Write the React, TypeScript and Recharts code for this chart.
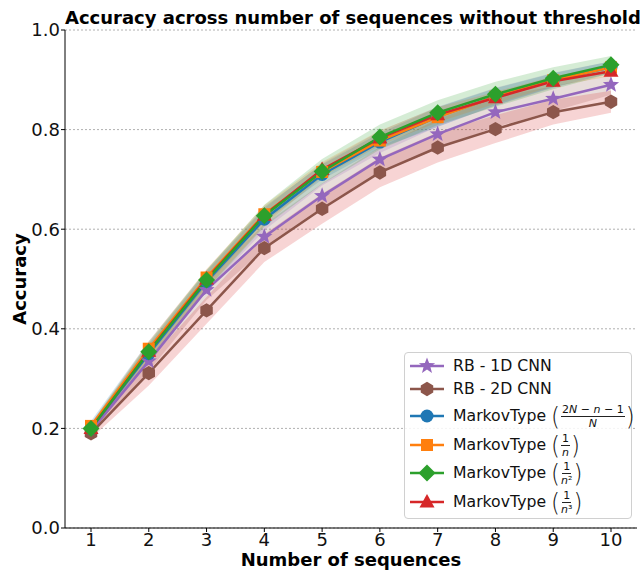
import React from 'react'
import { ComposedChart, Line, Area, XAxis, YAxis, CartesianGrid } from 'recharts'

// ---- data ----
const sequences = [1, 2, 3, 4, 5, 6, 7, 8, 9, 10]
const yTicks = [0, 0.2, 0.4, 0.6, 0.8, 1.0]

const rb1d = [0.195, 0.335, 0.478, 0.585, 0.667, 0.74, 0.791, 0.835, 0.862, 0.89]
const rb2d = [0.19, 0.311, 0.437, 0.562, 0.641, 0.714, 0.764, 0.801, 0.835, 0.856]
const markovN = [0.2, 0.35, 0.495, 0.62, 0.71, 0.775, 0.826, 0.866, 0.899, 0.925]
const markovInv = [0.205, 0.36, 0.503, 0.63, 0.715, 0.778, 0.825, 0.866, 0.899, 0.925]
const markovInv2 = [0.2, 0.354, 0.498, 0.627, 0.716, 0.785, 0.834, 0.871, 0.903, 0.93]
const markovInv3 = [0.2, 0.355, 0.5, 0.628, 0.72, 0.783, 0.83, 0.864, 0.897, 0.917]

// spread (std) shown as shaded band
const rb1dStd = [0.01, 0.02, 0.02, 0.025, 0.025, 0.025, 0.03, 0.03, 0.025, 0.02]
const rb2dStd = [0.01, 0.025, 0.027, 0.028, 0.03, 0.03, 0.03, 0.028, 0.025, 0.022]
const markovNStd = [0.01, 0.018, 0.02, 0.022, 0.022, 0.022, 0.02, 0.018, 0.015, 0.012]
const markovInvStd = [0.01, 0.015, 0.015, 0.015, 0.015, 0.015, 0.02, 0.017, 0.014, 0.012]
const markovInv2Std = [0.01, 0.018, 0.02, 0.022, 0.025, 0.025, 0.025, 0.025, 0.022, 0.018]
const markovInv3Std = [0.01, 0.02, 0.02, 0.02, 0.015, 0.015, 0.015, 0.012, 0.01, 0.01]

type Shape = 'star' | 'hexagon' | 'circle' | 'square' | 'diamond' | 'triangle'

interface Series {
  key: string
  color: string
  band: string
  shape: Shape
  values: number[]
  std: number[]
}

const series: Series[] = [
  { key: 'rb1d', color: '#9467bd', band: '#8c564b', shape: 'star', values: rb1d, std: rb1dStd },
  { key: 'rb2d', color: '#8c564b', band: '#d62728', shape: 'hexagon', values: rb2d, std: rb2dStd },
  { key: 'markovN', color: '#1f77b4', band: '#9467bd', shape: 'circle', values: markovN, std: markovNStd },
  { key: 'markovInv', color: '#ff7f0e', band: '#1f77b4', shape: 'square', values: markovInv, std: markovInvStd },
  { key: 'markovInv3', color: '#d62728', band: '#ff7f0e', shape: 'triangle', values: markovInv3, std: markovInv3Std },
  { key: 'markovInv2', color: '#2ca02c', band: '#2ca02c', shape: 'diamond', values: markovInv2, std: markovInv2Std },
]

const rows = sequences.map((x, i) => {
  const row: Record<string, number | number[]> = { x }
  series.forEach((s) => {
    row[s.key] = s.values[i]
    row[s.key + 'Band'] = [s.values[i] - s.std[i], s.values[i] + s.std[i]]
  })
  return row
})

const FONT = "'DejaVu Sans', sans-serif"

// ---- markers ----
function polygon(cx: number, cy: number, pts: [number, number][]) {
  return pts.map(([r, a]) => `${cx + r * Math.sin(a)},${cy - r * Math.cos(a)}`).join(' ')
}

function Marker({ cx, cy, shape, color }: { cx: number; cy: number; shape: Shape; color: string }) {
  if (shape === 'circle') return <circle cx={cx} cy={cy} r={6.5} fill={color} />
  if (shape === 'square') return <rect x={cx - 6} y={cy - 6} width={12} height={12} fill={color} />
  if (shape === 'diamond') {
    const p = polygon(cx, cy, [0, 1, 2, 3].map((k) => [8.5, (k * Math.PI) / 2] as [number, number]))
    return <polygon points={p} fill={color} />
  }
  if (shape === 'triangle') {
    const p = `${cx},${cy - 8} ${cx + 7.5},${cy + 5.5} ${cx - 7.5},${cy + 5.5}`
    return <polygon points={p} fill={color} />
  }
  if (shape === 'hexagon') {
    const p = polygon(cx, cy, [0, 1, 2, 3, 4, 5].map((k) => [7.2, (k * Math.PI) / 3] as [number, number]))
    return <polygon points={p} fill={color} />
  }
  const pts: [number, number][] = []
  for (let k = 0; k < 10; k++) pts.push([k % 2 === 0 ? 8.5 : 3.6, (k * Math.PI) / 5])
  return <polygon points={polygon(cx, cy, pts)} fill={color} />
}

// ---- legend ----
function Frac({ num, den }: { num: React.ReactNode; den: React.ReactNode }) {
  return (
    <span
      style={{
        display: 'inline-flex',
        flexDirection: 'column',
        alignItems: 'center',
        verticalAlign: 'middle',
        fontSize: 11,
        lineHeight: '11px',
        margin: '0 1px',
      }}
    >
      <span style={{ borderBottom: '1px solid #222', padding: '0 1px 1px' }}>{num}</span>
      <span style={{ paddingTop: 1 }}>{den}</span>
    </span>
  )
}

function Paren({ children }: { children: React.ReactNode }) {
  return (
    <span
      style={{
        fontSize: 23,
        fontWeight: 300,
        display: 'inline-block',
        transform: 'scaleY(1.1)',
        verticalAlign: 'middle',
        lineHeight: '20px',
        height: 20,
      }}
    >
      {children}
    </span>
  )
}

const it = (t: string) => <i>{t}</i>

const legendLabels: Record<string, React.ReactNode> = {
  rb1d: 'RB - 1D CNN',
  rb2d: 'RB - 2D CNN',
  markovN: (
    <>
      MarkovType <Paren>(</Paren>
      <Frac num={<>2{it('N')} − {it('n')} − 1</>} den={it('N')} />
      <Paren>)</Paren>
    </>
  ),
  markovInv: (
    <>
      MarkovType <Paren>(</Paren>
      <Frac num="1" den={it('n')} />
      <Paren>)</Paren>
    </>
  ),
  markovInv2: (
    <>
      MarkovType <Paren>(</Paren>
      <Frac num="1" den={<>{it('n')}²</>} />
      <Paren>)</Paren>
    </>
  ),
  markovInv3: (
    <>
      MarkovType <Paren>(</Paren>
      <Frac num="1" den={<>{it('n')}³</>} />
      <Paren>)</Paren>
    </>
  ),
}

const legendOrder = ['rb1d', 'rb2d', 'markovN', 'markovInv', 'markovInv2', 'markovInv3']
const legendRowHeights = [23, 24, 30, 28, 28, 30]

function LegendBox() {
  return (
    <div
      style={{
        position: 'absolute',
        left: 404,
        top: 352,
        width: 228,
        height: 167,
        border: '1px solid #d0d0d0',
        borderRadius: 4,
        background: 'rgba(255,255,255,0.85)',
        boxSizing: 'border-box',
        padding: '1px 0 0 5px',
        fontFamily: FONT,
        fontSize: 15.7,
        color: '#111',
      }}
    >
      {legendOrder.map((key, i) => {
        const s = series.find((d) => d.key === key)!
        return (
          <div key={key} style={{ display: 'flex', alignItems: 'center', height: legendRowHeights[i], lineHeight: '20px' }}>
            <svg width={34} height={20} style={{ flex: 'none' }}>
              <line x1={0} y1={10} x2={34} y2={10} stroke={s.color} strokeWidth={2.5} />
              <Marker cx={17} cy={10} shape={s.shape} color={s.color} />
            </svg>
            <span style={{ marginLeft: 9, whiteSpace: 'nowrap' }}>{legendLabels[key]}</span>
          </div>
        )
      })}
    </div>
  )
}

// ---- chart ----
export default function App() {
  return (
    <div style={{ position: 'absolute', left: 0, top: 0, width: 640, height: 570, background: '#fff', fontFamily: FONT }}>
      <div
        style={{
          position: 'absolute',
          left: 65,
          width: 572,
          top: 7,
          textAlign: 'center',
          fontWeight: 'bold',
          fontSize: 18,
          whiteSpace: 'nowrap',
          color: '#000',
        }}
      >
        Accuracy across number of sequences without threshold
      </div>
      <ComposedChart width={640} height={570} data={rows} margin={{ top: 30, right: 3, bottom: 0, left: 0 }}>
        <CartesianGrid vertical={false} stroke="#b0b0b0" strokeDasharray="2 2" />
        <XAxis
          dataKey="x"
          type="number"
          domain={[0.55, 10.45]}
          ticks={sequences}
          interval={0}
          height={42}
          tickSize={4}
          tickMargin={1}
          stroke="#000"
          tick={{ fill: '#111', fontSize: 18, fontFamily: FONT }}
          label={{
            value: 'Number of sequences',
            position: 'insideBottom',
            offset: 4,
            style: { fontWeight: 'bold', fontSize: 18, fill: '#000', fontFamily: FONT },
          }}
        />
        <XAxis xAxisId="top" orientation="top" type="number" domain={[0.55, 10.45]} height={0} tick={false} tickLine={false} stroke="#000" />
        <YAxis
          type="number"
          domain={[0, 1]}
          ticks={yTicks}
          interval={0}
          width={65}
          tickSize={4}
          tickMargin={1}
          stroke="#000"
          tickFormatter={(v: number) => v.toFixed(1)}
          tick={{ fill: '#111', fontSize: 18, fontFamily: FONT }}
          label={{
            value: 'Accuracy',
            angle: -90,
            position: 'insideLeft',
            offset: 20,
            style: { fontWeight: 'bold', fontSize: 18, fill: '#000', textAnchor: 'middle', fontFamily: FONT },
          }}
        />
        <YAxis yAxisId="right" orientation="right" type="number" domain={[0, 1]} width={0} tick={false} tickLine={false} stroke="#000" />
        {series.map((s) => (
          <Area
            key={s.key + 'Band'}
            dataKey={s.key + 'Band'}
            type="linear"
            stroke="none"
            fill={s.band}
            fillOpacity={0.2}
            activeDot={false}
            legendType="none"
            isAnimationActive={false}
          />
        ))}
        {series.map((s) => (
          <Line
            key={s.key}
            dataKey={s.key}
            type="linear"
            stroke={s.color}
            strokeWidth={2.5}
            activeDot={false}
            isAnimationActive={false}
            dot={(p: any) => <Marker key={`${s.key}-${p.index}`} cx={p.cx} cy={p.cy} shape={s.shape} color={s.color} />}
          />
        ))}
      </ComposedChart>
      <LegendBox />
    </div>
  )
}
